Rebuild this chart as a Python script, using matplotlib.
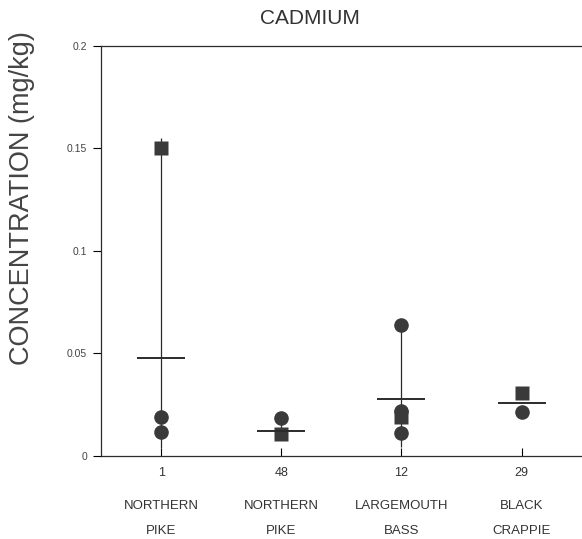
import matplotlib
matplotlib.use("Agg")
import matplotlib.pyplot as plt

plt.rcParams['font.family'] = ['Liberation Sans', 'DejaVu Sans']

# data
sample_sizes = ['1', '48', '12', '29']
species = ['NORTHERN\n\nPIKE', 'NORTHERN\n\nPIKE', 'LARGEMOUTH\n\nBASS', 'BLACK\n\nCRAPPIE']
means = [0.048, 0.0123, 0.028, 0.026]
whisker_lo = [0.004, 0.011, 0.0045, None]
whisker_hi = [0.155, 0.0185, 0.064, None]
square_vals = [0.150, 0.0105, 0.019, 0.0307]
circle_vals = [[0.0192, 0.0119], [0.0183], [0.064, 0.022, 0.011], [0.0216]]

ink = '#2b2b2b'
fig = plt.figure(figsize=(5.82, 5.39), dpi=100)
ax = fig.add_axes([0.1735, 0.154, 0.826, 0.761])

xs = list(range(1, len(sample_sizes) + 1))
for x, lo, hi in zip(xs, whisker_lo, whisker_hi):
    if lo is not None:
        ax.vlines(x, lo, hi, color=ink, lw=0.9, zorder=1)
for x, vals in zip(xs, circle_vals):
    ax.plot([x] * len(vals), vals, 'o', color='#3a3a3a', ms=10.5, mec='none', zorder=3)
ax.plot(xs, square_vals, 's', color='#3a3a3a', ms=9.5, mec='none', zorder=3)
ax.hlines(means, [x - 0.2 for x in xs], [x + 0.2 for x in xs], color=ink, lw=1.4, zorder=4)

ax.set_xlim(0.5, 4.5)
ax.set_ylim(0, 0.2)
ax.set_yticks([0, 0.05, 0.1, 0.15, 0.2])
ax.set_yticklabels(['0', '0.05', '0.1', '0.15', '0.2'], fontsize=7.5, color='#444444')
ax.set_xticks(xs)
ax.set_xticklabels(sample_sizes, fontsize=9, color='#333333')
ax.tick_params(axis='y', direction='out', length=6, width=0.8, pad=4)
ax.tick_params(axis='x', direction='in', length=6, width=0.8, pad=8)
# species names under the sample sizes
for x, name in zip(xs, species):
    ax.annotate(name, xy=(x, 0), xycoords=('data', 'axes fraction'),
                xytext=(0, -31.5), textcoords='offset points',
                ha='center', va='top', fontsize=9.5, linespacing=1.08, color='#333333')

ax.spines['right'].set_visible(False)
for s in ['left', 'top', 'bottom']:
    ax.spines[s].set_linewidth(0.9)
    ax.spines[s].set_color(ink)

fig.text(0.533, 0.966, 'CADMIUM', ha='center', va='center', fontsize=15, color='#333333')
fig.text(0.038, 0.632, 'CONCENTRATION (mg/kg)', rotation=90, ha='center', va='center',
         fontsize=19.5, color='#444444')

fig.savefig('out.png', dpi=100)
